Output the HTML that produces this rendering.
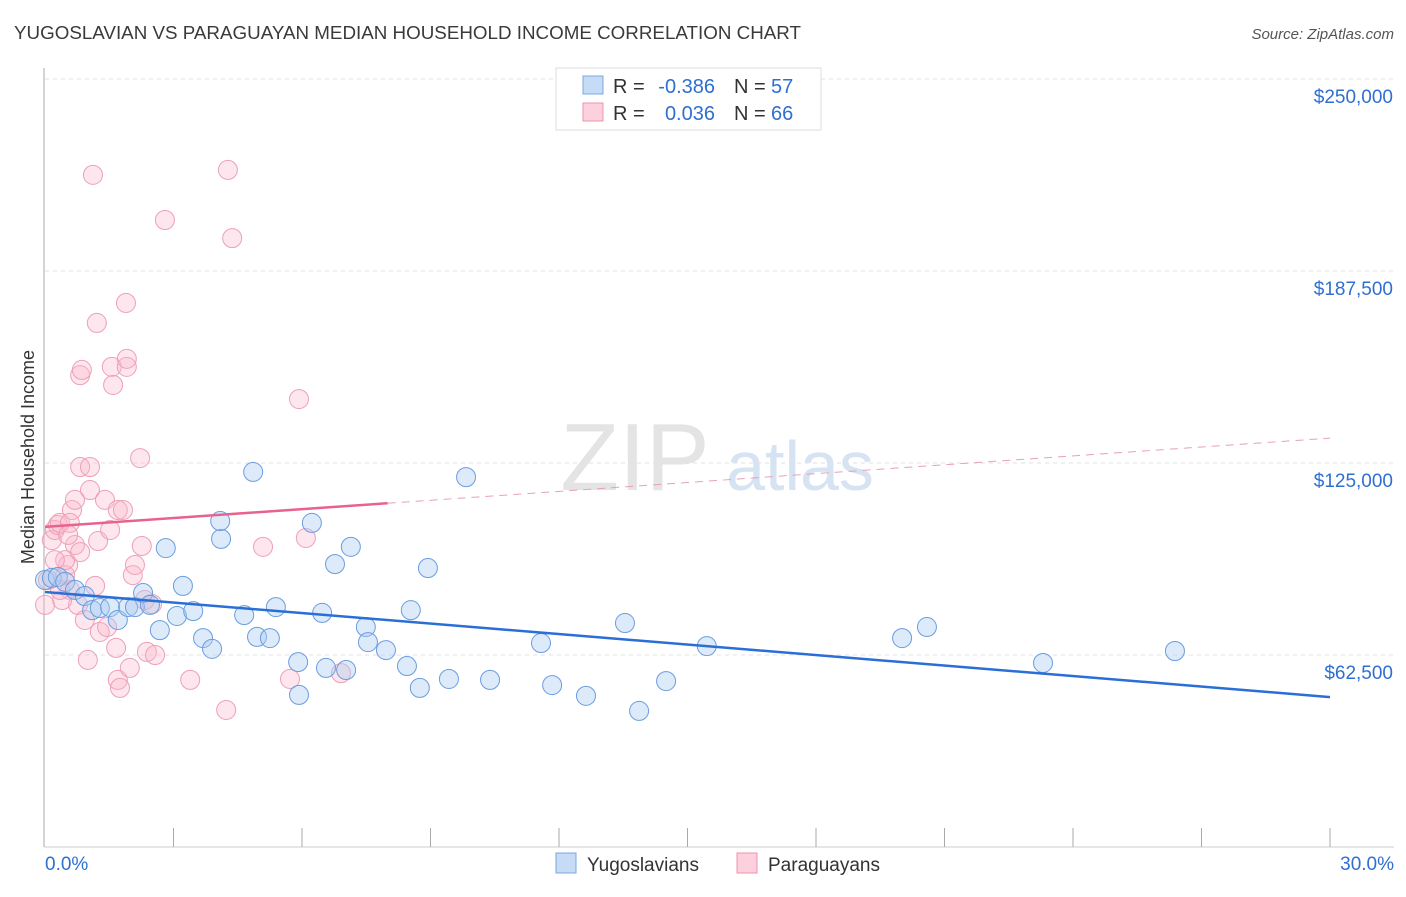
<!DOCTYPE html>
<html><head><meta charset="utf-8"><style>
body{margin:0;background:#fff;font-family:"Liberation Sans",sans-serif;}
svg text{font-family:"Liberation Sans",sans-serif;}
</style></head><body>
<svg id="chart" width="1406" height="892" xmlns="http://www.w3.org/2000/svg">
<text x="14" y="39" font-size="18" fill="#3a3a3a" textLength="787" lengthAdjust="spacingAndGlyphs">YUGOSLAVIAN VS PARAGUAYAN MEDIAN HOUSEHOLD INCOME CORRELATION CHART</text>
<text x="1394" y="39" font-size="15" fill="#555" text-anchor="end" font-style="italic">Source: ZipAtlas.com</text>
<text transform="translate(34,457) rotate(-90)" font-size="18" fill="#333" text-anchor="middle">Median Household Income</text>
<g>
<text x="635" y="490" font-size="96" fill="#e4e4e4" text-anchor="middle" font-family="Liberation Serif">ZIP</text>
<text x="800" y="490" font-size="70" fill="#d5e3f3" text-anchor="middle">atlas</text>
</g>
<g id="grid"></g>
<g id="axes"></g>
<g id="pts"></g>
<g id="lines"></g>
<g>
<rect x="556" y="68" width="265" height="62" fill="#fff" stroke="#ddd"/>
<rect x="583" y="76" width="20" height="18" fill="#c6dbf5" stroke="#7aa8e0"/>
<rect x="583" y="103" width="20" height="18" fill="#fcd0dc" stroke="#ec93ad"/>
<text x="613" y="93" font-size="20" fill="#333">R =</text>
<text x="715" y="93" font-size="20" fill="#2f6fd0" text-anchor="end">-0.386</text>
<text x="734" y="93" font-size="20" fill="#333">N =</text>
<text x="771" y="93" font-size="20" fill="#2f6fd0">57</text>
<text x="613" y="120" font-size="20" fill="#333">R =</text>
<text x="715" y="120" font-size="20" fill="#2f6fd0" text-anchor="end">0.036</text>
<text x="734" y="120" font-size="20" fill="#333">N =</text>
<text x="771" y="120" font-size="20" fill="#2f6fd0">66</text>
</g>
<g>
<rect x="556" y="853" width="20" height="20" fill="#c6dbf5" stroke="#7aa8e0"/>
<text x="587" y="871" font-size="19" fill="#333">Yugoslavians</text>
<rect x="737" y="853" width="20" height="20" fill="#fcd0dc" stroke="#ec93ad"/>
<text x="768" y="871" font-size="19" fill="#333">Paraguayans</text>
</g>
</svg>
<script>
const yTicks=[62500,125000,187500,250000];
const yTickLabels=["$62,500","$125,000","$187,500","$250,000"];
const xTickLabels=["0.0%","30.0%"];
const blueX=[0,0.16,0.30,0.47,0.70,0.93,1.10,1.28,1.52,1.70,1.94,2.10,2.29,2.45,2.68,2.82,3.08,3.22,3.46,3.69,3.90,4.11,4.09,4.65,4.86,4.95,5.25,5.39,5.91,5.93,6.23,6.47,6.56,6.77,7.03,7.14,7.49,7.54,7.96,8.45,8.54,8.75,8.94,9.43,9.83,10.39,11.58,11.84,12.63,13.54,13.87,14.50,15.45,20.01,20.59,23.30,26.38];
const blueY=[86.9,87.6,87.9,86.3,83.7,81.7,77.1,77.8,78.1,73.9,78.1,78.1,82.7,78.8,70.6,97.3,75.2,85.0,76.8,68.0,64.5,100.3,106.1,75.5,122.1,68.4,68.0,78.1,60.2,49.5,105.5,76.2,58.3,92.1,57.6,97.7,71.6,66.7,64.1,58.9,77.1,51.8,90.8,54.7,120.4,54.4,66.4,52.7,49.2,72.9,44.3,54.0,65.4,68.0,71.6,59.9,63.8];
const pinkX=[0,0.07,0.16,0.23,0.30,0.35,0.47,0.54,0.58,0.70,0.63,0.77,0.82,0.86,0.82,0.93,1.00,1.05,1.05,1.12,1.21,1.24,1.28,1.40,1.56,1.59,1.66,1.70,1.75,1.89,1.91,1.91,1.98,2.05,2.10,2.22,2.26,2.33,2.38,2.50,2.57,2.80,3.39,4.23,4.27,4.37,5.09,5.72,5.93,6.09,6.91,0.40,0.47,0.70,0.58,1.17,1.45,0.82,1.70,1.82,1.52,0.54,0.23,0.35];
const pinkY=[78.8,86.9,99.9,103.2,104.8,105.5,88.5,91.8,83.7,98.3,109.7,78.8,153.6,155.3,123.7,73.9,60.9,123.7,116.2,218.8,170.6,99.6,70.0,113.0,156.3,150.4,64.8,54.4,51.8,177.1,156.3,158.9,58.3,88.5,91.8,126.6,98.0,80.4,63.5,79.1,62.5,204.1,54.4,44.6,220.4,198.2,97.7,54.7,145.8,100.6,56.6,80.4,93.4,113.0,105.5,85.0,71.6,96.0,109.7,109.7,103.2,101.6,93.4,83.7];
const blueTrend=[83.0,48.8];
const pinkTrend=[104.2,133.1];
const pinkSolidEnd=8.0;
const NS="http://www.w3.org/2000/svg";
function sx(p){return 45+(p/30)*1285;}
function sy(k){return 847-(k*1000)/62500*192;}
function mk(t,a,parent){const e=document.createElementNS(NS,t);for(const k in a)e.setAttribute(k,a[k]);parent.appendChild(e);return e;}
const grid=document.getElementById('grid'),axes=document.getElementById('axes'),pts=document.getElementById('pts'),lines=document.getElementById('lines');
yTicks.forEach((v,i)=>{
 const y=sy(v/1000);
 const g=mk('line',{x1:45,x2:1394,y1:y,y2:y,stroke:'#e2e2e2','stroke-dasharray':'4,4'},grid);
 
 
 const t=mk('text',{x:1393,y:y+24,'font-size':19,fill:'#2f6fd0','text-anchor':'end'},axes);
 t.textContent=yTickLabels[i];
 
 
});
const ya=mk('line',{x1:44,x2:44,y1:68,y2:847,stroke:'#aaa'},axes);


const xa=mk('line',{x1:44,x2:1394,y1:847,y2:847,stroke:'#ccc'},axes);


for(let i=1;i<=10;i++){
 const x=sx(i*3);
 const tk=mk('line',{x1:x,x2:x,y1:828,y2:847,stroke:'#aaa'},axes);
 
 
}
[[0,'start',45],[30,'end',1394]].forEach((d,i)=>{
 const t=mk('text',{x:d[2],y:870,'font-size':19,fill:'#2f6fd0','text-anchor':d[1]},axes);
 t.textContent=xTickLabels[i];
 
 
});
pinkX.forEach((x,i)=>{
 const c=mk('circle',{cx:sx(x),cy:sy(pinkY[i]),r:9.5,fill:'rgba(248,182,204,0.35)',stroke:'#eea0b8','stroke-width':1},pts);
 
 
});
blueX.forEach((x,i)=>{
 const c=mk('circle',{cx:sx(x),cy:sy(blueY[i]),r:9.5,fill:'rgba(170,202,240,0.4)',stroke:'#6a9de0','stroke-width':1},pts);
 
 
});
const bl=mk('line',{x1:sx(0),y1:sy(blueTrend[0]),x2:sx(30),y2:sy(blueTrend[1]),stroke:'#2a6fd6','stroke-width':2.5},lines);


const pe=pinkTrend[0]+(pinkTrend[1]-pinkTrend[0])*pinkSolidEnd/30;
const pl=mk('line',{x1:sx(0),y1:sy(pinkTrend[0]),x2:sx(pinkSolidEnd),y2:sy(pe),stroke:'#e8628e','stroke-width':2.5},lines);


const pd=mk('line',{x1:sx(pinkSolidEnd),y1:sy(pe),x2:sx(30),y2:sy(pinkTrend[1]),stroke:'#e8a0b8','stroke-width':1,'stroke-dasharray':'8,6'},lines);


</script>
</body></html>
